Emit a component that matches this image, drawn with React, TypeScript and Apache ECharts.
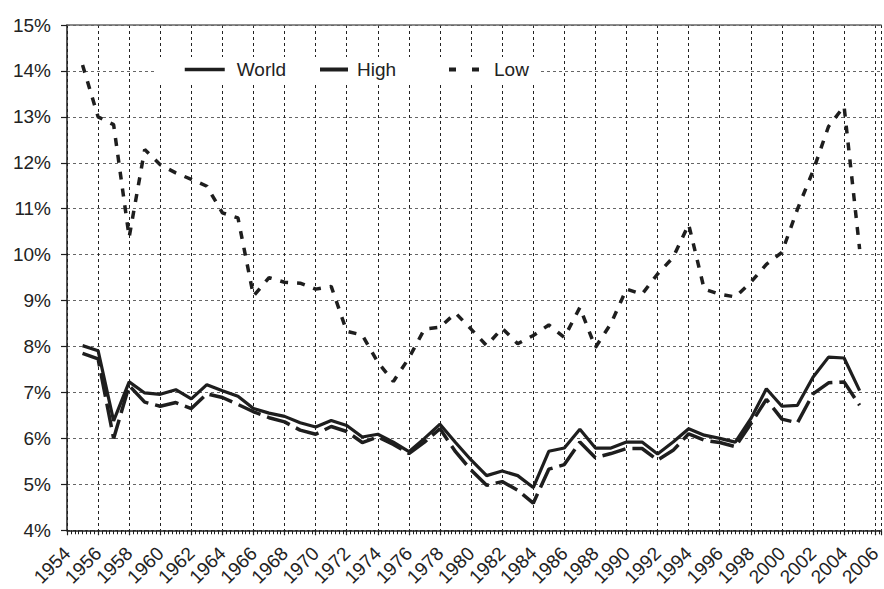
import React, { useEffect, useRef } from "react";
import * as echarts from "echarts";

const years = [
  1955, 1956, 1957, 1958, 1959, 1960, 1961, 1962, 1963, 1964,
  1965, 1966, 1967, 1968, 1969, 1970, 1971, 1972, 1973, 1974,
  1975, 1976, 1977, 1978, 1979, 1980, 1981, 1982, 1983, 1984,
  1985, 1986, 1987, 1988, 1989, 1990, 1991, 1992, 1993, 1994,
  1995, 1996, 1997, 1998, 1999, 2000, 2001, 2002, 2003, 2004,
  2005,
];

const world = [
  8.02, 7.91, 6.38, 7.23, 6.99, 6.96, 7.06, 6.86, 7.17, 7.04,
  6.92, 6.65, 6.55, 6.48, 6.34, 6.25, 6.39, 6.28, 6.03, 6.09,
  5.92, 5.71, 6.0, 6.31, 5.91, 5.53, 5.19, 5.29, 5.19, 4.93,
  5.72, 5.79, 6.2, 5.79, 5.79, 5.92, 5.92, 5.66, 5.92, 6.21,
  6.07, 6.0, 5.92, 6.43, 7.08, 6.7, 6.72, 7.33, 7.77, 7.75,
  7.04,
];

const high = [
  7.85, 7.73, 6.0, 7.15, 6.79, 6.7, 6.78, 6.65, 6.97, 6.89,
  6.74, 6.58, 6.45, 6.36, 6.18, 6.09, 6.26, 6.15, 5.91, 6.03,
  5.87, 5.67, 5.92, 6.21, 5.71, 5.31, 4.98, 5.06, 4.87, 4.59,
  5.33, 5.43, 5.92, 5.58, 5.67, 5.78, 5.78, 5.53, 5.74, 6.1,
  5.96, 5.91, 5.82, 6.32, 6.85, 6.42, 6.34, 6.97, 7.21, 7.23,
  6.72,
];

const low = [
  14.13, 13.0, 12.83, 10.38, 12.29, 11.96, 11.78, 11.64, 11.49, 10.91,
  10.8, 9.1, 9.5, 9.4, 9.38, 9.25, 9.31, 8.33, 8.25, 7.66,
  7.24, 7.75, 8.38, 8.42, 8.73, 8.38, 8.02, 8.4, 8.06, 8.24,
  8.47, 8.2, 8.85, 7.98, 8.5, 9.25, 9.14, 9.58, 9.94, 10.66,
  9.25, 9.14, 9.08, 9.4, 9.79, 10.05, 10.99, 11.82, 12.79, 13.23,
  10.12,
];

const seriesNames = ["World", "High", "Low"];
const yTicks = [4, 5, 6, 7, 8, 9, 10, 11, 12, 13, 14, 15];

const FONT = "'Liberation Sans', Arial, sans-serif";
const INK = "#1e1e1e";

function legendBox(name: string, left: number, padL: number, padR: number, textPad: number, lineStyle: any) {
  return {
    left,
    top: 57,
    backgroundColor: "#fff",
    padding: [3, padR, 3, padL],
    itemWidth: 40,
    itemHeight: 14,
    itemStyle: { opacity: 0 },
    textStyle: { fontFamily: FONT, fontSize: 19, color: "#222", padding: [0, 0, 0, textPad] },
    data: [{ name, lineStyle }],
    selectedMode: false,
  };
}

export default function App() {
  const ref = useRef<HTMLDivElement>(null);

  useEffect(() => {
    if (!ref.current) return;
    const chart = echarts.init(ref.current, undefined, { renderer: "svg" });
    const pairs = (vals: number[]) => years.map((y, i) => [y, vals[i]]);
    const xMin = 1954;
    const xMax = 2006.38;

    chart.setOption({
      animation: false,
      backgroundColor: "#fff",
      grid: { left: 67, right: 0, top: 25, bottom: 57 },
      legend: [
        legendBox(seriesNames[0], 157, 26, 22, 7, { type: "solid", width: 3.5 }),
        legendBox(seriesNames[1], 300, 6, 42, 4, { type: [28, 100], dashOffset: -12, width: 4 }),
        legendBox(seriesNames[2], 430, 17, 12, 0, { type: [7, 16], width: 4 }),
      ],
      xAxis: [
        {
          type: "value",
          min: xMin,
          max: xMax,
          interval: 2,
          axisLine: { show: true, lineStyle: { color: INK, width: 1.5 } },
          axisTick: { show: true, length: 5, lineStyle: { color: INK, width: 1.2 } },
          minorTick: { show: true, splitNumber: 8, length: 4, lineStyle: { color: INK, width: 1 } },
          axisLabel: {
            rotate: 45,
            margin: 20,
            fontFamily: FONT,
            fontSize: 19,
            color: "#222",
            showMaxLabel: false,
            formatter: (v: number) => (Number.isInteger(v) ? String(v) : ""),
          },
          splitLine: {
            show: true,
            lineStyle: { color: "#222", type: [3, 3], width: 1 },
          },
        },
        {
          type: "value",
          position: "top",
          min: xMin,
          max: xMax,
          axisLine: { show: true, lineStyle: { color: "#666", width: 1.5 } },
          axisTick: { show: false },
          axisLabel: { show: false },
          splitLine: { show: false },
        },
      ],
      yAxis: {
        type: "value",
        min: yTicks[0],
        max: yTicks[yTicks.length - 1],
        interval: 1,
        axisLine: { show: true, lineStyle: { color: INK, width: 1.5 } },
        axisTick: { show: true, length: 6, lineStyle: { color: INK, width: 1.2 } },
        axisLabel: {
          margin: 16,
          fontFamily: FONT,
          fontSize: 19,
          color: "#222",
          formatter: "{value}%",
        },
        splitLine: {
          show: true,
          lineStyle: { color: "#666", type: [3, 3], width: 1 },
        },
      },
      series: [
        {
          name: seriesNames[0],
          type: "line",
          data: pairs(world),
          symbol: "none",
          lineStyle: { color: INK, width: 3.2 },
          itemStyle: { color: INK },
          z: 4,
        },
        {
          name: seriesNames[1],
          type: "line",
          data: pairs(high),
          symbol: "none",
          lineStyle: { color: INK, width: 3.5, type: [24, 7] },
          itemStyle: { color: INK },
          z: 3,
        },
        {
          name: seriesNames[2],
          type: "line",
          data: pairs(low),
          symbol: "none",
          lineStyle: { color: INK, width: 3.5, type: [8, 9] },
          itemStyle: { color: INK },
          z: 3,
        },
      ],
    });

    return () => chart.dispose();
  }, []);

  return <div ref={ref} style={{ width: 884, height: 589, position: "fixed", left: 0, top: 0 }} />;
}
